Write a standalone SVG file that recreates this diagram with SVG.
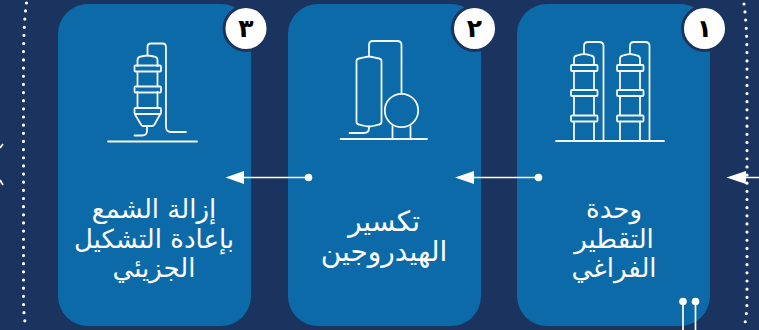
<svg xmlns="http://www.w3.org/2000/svg" width="759" height="330" viewBox="0 0 759 330">
<style>
.card{fill:#0d6aa8}
.ic{fill:none;stroke:#f2f7fb;stroke-width:1.8;stroke-linejoin:round;stroke-linecap:round}
.badge{fill:#fff;stroke:#1a335f;stroke-width:3}
.num{font:bold 25px "DejaVu Sans",sans-serif;fill:#000;text-anchor:middle}
.lab{font:26px "DejaVu Sans",sans-serif;fill:#fff;text-anchor:middle;direction:rtl}
.wide{font-size:28px}
.con{fill:none;stroke:#fff;stroke-width:1.7}
.dots{fill:none;stroke:#fff;stroke-width:3.2;stroke-linecap:round;stroke-dasharray:0 8.15}
</style>
<rect width="759" height="330" fill="#1a335f"/>
<g id="backdrop">
<path class="dots" d="M26.500 3Q23.500 25 23.500 60V300Q23.500 315 26 328"/>
<path class="dots" d="M744 4Q747 25 747 60V300Q747 315 744 328"/>
<path d="M3 144L0 148M0 180L3 185" stroke="#fff" stroke-width="1.800" fill="none"/>
</g>
<g id="node-3">
<rect class="card" x="58" y="4" width="193" height="322" rx="30"/>
<g class="ic">
<path d="M108 141.500H197"/>
<path d="M137.500 66V60.500Q137.500 57 141 56.500Q147 55.500 147.500 55.500T154 56.500Q157.500 57 157.500 60.500V66M137.500 72V86M157.500 72V86M137.500 92V108M157.500 92V108M135 114.500L141 124.500Q141.500 126 143 126H152Q153.500 126 154.500 124.500L160 114.500"/>
<rect x="134.500" y="65.500" width="26.500" height="6" rx="1"/>
<rect x="134.500" y="86.500" width="26.500" height="6" rx="1"/>
<rect x="134.500" y="108" width="26.500" height="6" rx="1"/>
<path d="M147.500 55.500V47Q147.500 43.500 151 43.500H162.500Q166 43.500 166 47V126.500Q166 132 171 132H186M147 126V131Q147 135.500 142 135.500H134.500"/>
</g>
<circle class="badge" cx="246" cy="28.500" r="22"/>
<text class="num" x="246" y="37">٣</text>
<text class="lab" x="154" y="218">إزالة الشمع</text>
<text class="lab" x="154" y="248">بإعادة التشكيل</text>
<text class="lab" x="154" y="277">الجزيئي</text>
</g>
<g id="node-2">
<rect class="card" x="288" y="4" width="193" height="322" rx="30"/>
<g class="ic">
<path d="M340.500 139H427"/>
<path d="M356.500 61Q356.500 59 359 58.500Q368 56.500 369 56.500T379 58.500Q381.500 59 381.500 61V122Q381.500 124 379 124.500Q372 126.500 369 126.500T359 124.500Q356.500 124 356.500 122Z"/>
<path d="M369 56.500V45Q369 41 373 41H397Q401.500 41 401.500 45V94"/>
<circle cx="401.500" cy="110.500" r="16.700"/>
<path d="M392.500 126V139M410.500 126V139M369 126.500V128Q369 133 364 133H349.500"/>
</g>
<circle class="badge" cx="474.500" cy="28.500" r="22"/>
<text class="num" x="474.500" y="37">٢</text>
<text class="lab wide" x="384" y="231">تكسير</text>
<text class="lab wide" x="384" y="261">الهيدروجين</text>
</g>
<g id="node-1">
<rect class="card" x="517" y="4" width="193" height="322" rx="30"/>
<g class="ic">
<path d="M556 141H664"/>
<path d="M574 65V59Q574 56 577 55.500Q583 54 584 54T591 55.500Q594 56 594 59V65M574 71V90M594 71V90M574 96V115M594 96V115M574 122V140M594 122V140"/>
<rect x="571" y="65" width="26.500" height="6" rx="1"/>
<rect x="571" y="90" width="26.500" height="6" rx="1"/>
<rect x="571" y="115.500" width="26.500" height="6" rx="1"/>
<path d="M584 54V46Q584 42 588 42H599Q603.500 42 603.500 46V141"/>
<path d="M620 65V59Q620 56 623 55.500Q629 54 630 54T637 55.500Q640 56 640 59V65M620 71V90M640 71V90M620 96V115M640 96V115M620 122V140M640 122V140"/>
<rect x="617" y="65" width="26.500" height="6" rx="1"/>
<rect x="617" y="90" width="26.500" height="6" rx="1"/>
<rect x="617" y="115.500" width="26.500" height="6" rx="1"/>
<path d="M630 54V46Q630 42 634 42H645Q649.500 42 649.500 46V141"/>
</g>
<circle class="badge" cx="704.500" cy="28.500" r="22"/>
<text class="num" x="704.500" y="37">١</text>
<text class="lab" x="614" y="218">وحدة</text>
<text class="lab" x="614" y="248">التقطير</text>
<text class="lab" x="614" y="277">الفراغي</text>
</g>
<g id="connectors">
<path class="con" d="M759 177.500H740M538 177.500H470M308 177.500H240M683 302V330M695.500 302V330"/>
<path d="M726.500 177.500L746 171V184ZM455 177.500L474 171V184ZM225.500 177.500L244 171V184Z" fill="#fff"/>
<g fill="#fff">
<circle cx="538.500" cy="177.500" r="3.800"/>
<circle cx="308.500" cy="177.500" r="3.800"/>
<circle cx="683" cy="301.500" r="3.800"/>
<circle cx="695.500" cy="301.500" r="3.800"/>
</g>
</g>
</svg>
